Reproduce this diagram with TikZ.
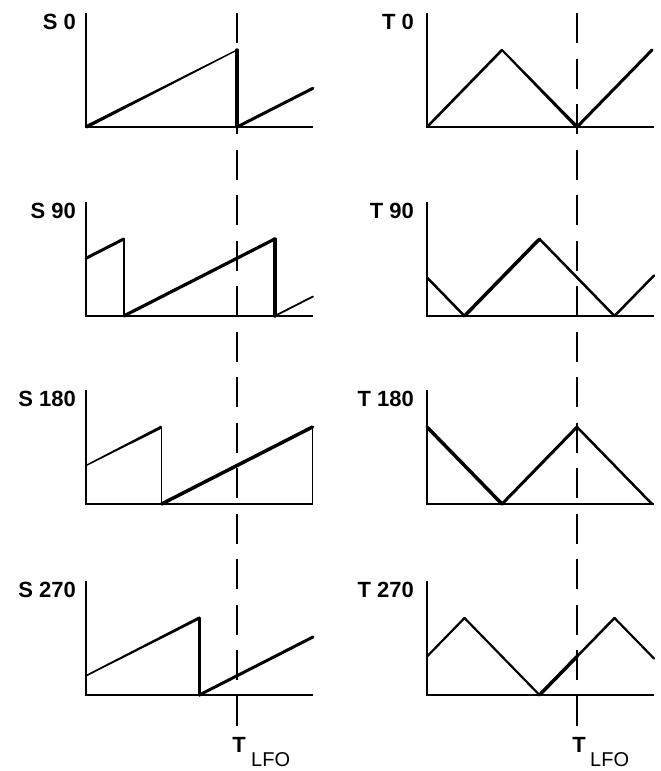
\documentclass[tikz,border=0pt]{standalone}
\usepackage{fontspec}
\setmainfont{Liberation Sans}
\newcommand\tpr[8]{\fill ({#1+(#5)*(#7)},{#2+(#6)*(#7)}) -- ({#3+(#5)*(#8)},{#4+(#6)*(#8)}) -- ({#3-(#5)*(#8)},{#4-(#6)*(#8)}) -- ({#1-(#5)*(#7)},{#2-(#6)*(#7)}) -- cycle;}
\begin{document}
\begin{tikzpicture}[x=1pt,y=-1pt,
  axis/.style={line width=1.6pt},
  wave/.style={line cap=round,line join=round},
  tlfo/.style={dash pattern=on 30pt off 15.5pt,line width=1.6pt},
  lab/.style={font=\fontsize{22}{22}\selectfont\bfseries,inner sep=0pt,anchor=north east},
  sub/.style={font=\fontsize{20}{20}\selectfont,inner sep=0pt,anchor=north west}]
\useasboundingbox (0,0) rectangle (661,771);
% dashed T_LFO lines
\coordinate (dl1) at (237,13); \coordinate (dl2) at (237,726);
\coordinate (dr1) at (577,13); \coordinate (dr2) at (577,726);
\draw[tlfo] (dl1) -- (dl2);
\draw[tlfo] (dr1) -- (dr2);
% axes and labels
\foreach \b/\sl/\tl/\n in {127/S 0/T 0/a,316/S 90/T 90/b,504/S 180/T 180/c,695/S 270/T 270/d}{
  \draw[axis] (86,\b-114) -- (86,\b) -- (313,\b);
  \draw[axis] (427,\b-114) -- (427,\b) -- (654,\b);
  \node[lab] (ls\n) at (76,\b-113) {\sl};
  \node[lab] (lt\n) at (414,\b-113) {\tl};
}
% S0
\begin{scope}[shift={(0,127)}]
  \tpr{86}{0}{237}{-77}{0.454}{0.891}{1.75}{0.65}
  \draw[wave,line width=2.4pt] (86,-77) -- (86,0);
  \draw[wave,line width=3.5pt] (237,-77) -- (237,0);
  \draw[wave,line width=3pt] (237,0) -- (313,-38.75);
\end{scope}
% S90
\begin{scope}[shift={(0,316)}]
  \draw[wave,line width=3pt] (86,-57.75) -- (123.75,-77);
  \draw[wave,line width=1.6pt] (123.75,-77) -- (123.75,0);
  \draw[wave,line width=3.2pt] (123.75,0) -- (274.75,-77);
  \draw[wave,line width=3.5pt] (274.75,-77) -- (274.75,0);
  \draw[wave,line width=1.8pt] (274.75,0) -- (313,-19.5);
\end{scope}
% S180
\begin{scope}[shift={(0,504)}]
  \tpr{86}{-38.5}{161.5}{-77}{0.454}{0.891}{0.7}{1.5}
  \draw[wave,line width=1.6pt] (161.5,-77) -- (161.5,0);
  \draw[wave,line width=3.5pt] (161.5,0) -- (312.5,-77);
  \draw[wave,line width=1.6pt] (312.5,-77) -- (312.5,0);
\end{scope}
% S270
\begin{scope}[shift={(0,695)}]
  \tpr{86}{-19.25}{199.25}{-77}{0.454}{0.891}{0.8}{1.5}
  \draw[wave,line width=3.5pt] (199.25,-77) -- (199.25,0);
  \draw[wave,line width=3pt] (199.25,0) -- (313,-58);
\end{scope}
% T0
\begin{scope}[shift={(0,127)}]
  \draw[wave,line width=2.6pt] (427,0) -- (502,-77);
  \tpr{502}{-77}{577}{0}{0.716}{-0.698}{1.0}{1.75}
  \draw[wave,line width=3pt] (577,0) -- (652,-77);
\end{scope}
% T90
\begin{scope}[shift={(0,316)}]
  \draw[wave,line width=2.5pt] (427,-38.5) -- (464.5,0);
  \draw[wave,line width=3.5pt] (464.5,0) -- (539.5,-77);
  \draw[wave,line width=2.5pt] (539.5,-77) -- (614.5,0) -- (654,-40.5);
\end{scope}
% T180
\begin{scope}[shift={(0,504)}]
  \draw[wave,line width=3.5pt] (427,-77) -- (502,0);
  \draw[wave,line width=3pt] (502,0) -- (577,-77);
  \draw[wave,line width=2.5pt] (577,-77) -- (652,0);
\end{scope}
% T270
\begin{scope}[shift={(0,695)}]
  \draw[wave,line width=2.2pt] (427,-38.5) -- (464.5,-77) -- (539.5,0);
  \draw[wave,line width=3.5pt] (539.5,0) -- (577,-38.5);
  \draw[wave,line width=2.5pt] (577,-38.5) -- (614.5,-77);
  \draw[wave,line width=2.2pt] (614.5,-77) -- (654,-36.5);
\end{scope}
% T_LFO labels
\node[lab,anchor=north] (tl) at (239,737) {T};
\node[sub] (tlsub) at (251,752) {LFO};
\node[lab,anchor=north] (tr) at (579,737) {T};
\node[sub] (trsub) at (590,752) {LFO};
\end{tikzpicture}
\end{document}
